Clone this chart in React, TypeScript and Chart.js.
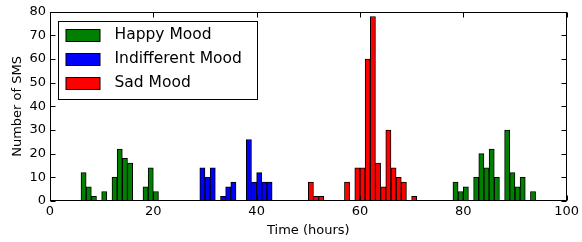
import React, { useEffect, useRef } from 'react';
import { Chart, registerables } from 'chart.js';

Chart.register(...registerables);

// Histogram bins (hour start) and counts
const happyHours = [6, 7, 8, 10, 12, 13, 14, 15, 18, 19, 20, 78, 79, 80, 82, 83, 84, 85, 86, 88, 89, 90, 91, 93];
const happyCounts = [12, 6, 2, 4, 10, 22, 18, 16, 6, 14, 4, 8, 4, 6, 10, 20, 14, 22, 10, 30, 12, 6, 10, 4];

const indifferentHours = [29, 30, 31, 33, 34, 35, 38, 39, 40, 41, 42];
const indifferentCounts = [14, 10, 14, 2, 6, 8, 26, 8, 12, 8, 8];

const sadHours = [50, 51, 52, 57, 59, 60, 61, 62, 63, 64, 65, 66, 67, 68, 70];
const sadCounts = [8, 2, 2, 8, 14, 14, 60, 78, 16, 6, 30, 14, 10, 8, 2];

const seriesLabels = ['Happy Mood', 'Indifferent Mood', 'Sad Mood'];
const seriesColors = ['#008000', '#0000ff', '#ff0000'];

const xTickValues = [0, 20, 40, 60, 80, 100];
const yTickValues = [0, 10, 20, 30, 40, 50, 60, 70, 80];

const xTitle = 'Time (hours)';
const yTitle = 'Number of SMS';

const FONT = '"DejaVu Sans", sans-serif';

const toPoints = (hours: number[], counts: number[]) =>
  hours.map((h, i) => ({ x: h + 0.5, y: counts[i] }));

const framePlugin = {
  id: 'frame',
  afterDatasetsDraw(chart: any) {
    const { ctx, chartArea: a, scales } = chart;
    ctx.save();
    ctx.strokeStyle = '#000';
    ctx.lineWidth = 1;
    const L = 5;
    const left = Math.round(a.left) + 0.5;
    const right = Math.round(a.right) - 0.5;
    const top = Math.round(a.top) + 0.5;
    const bottom = Math.round(a.bottom) - 0.5;
    ctx.beginPath();
    for (const t of scales.x.ticks) {
      const px = Math.round(scales.x.getPixelForValue(t.value)) + 0.5;
      ctx.moveTo(px, bottom);
      ctx.lineTo(px, bottom - L);
      ctx.moveTo(px, top);
      ctx.lineTo(px, top + L);
    }
    for (const t of scales.y.ticks) {
      const py = Math.round(scales.y.getPixelForValue(t.value)) + 0.5;
      ctx.moveTo(left, py);
      ctx.lineTo(left + L, py);
      ctx.moveTo(right, py);
      ctx.lineTo(right - L, py);
    }
    ctx.stroke();
    ctx.strokeRect(left, top, right - left, bottom - top);

    // legend box (upper left, inside the axes)
    const bx = Math.round(a.left + 8) + 0.5;
    const by = Math.round(a.top + 9) + 0.5;
    const bw = 199;
    const bh = 78;
    ctx.fillStyle = '#fff';
    ctx.fillRect(bx, by, bw, bh);
    ctx.strokeStyle = '#000';
    ctx.strokeRect(bx, by, bw, bh);
    ctx.font = `15.5px ${FONT}`;
    ctx.textBaseline = 'middle';
    ctx.textAlign = 'left';
    chart.data.datasets.forEach((ds: any, i: number) => {
      const cy = by + 13.5 + i * 24;
      const sx = bx + 7.5;
      ctx.fillStyle = ds.backgroundColor;
      ctx.fillRect(sx, Math.round(cy - 6) + 0.5, 34, 12);
      ctx.strokeRect(sx, Math.round(cy - 6) + 0.5, 34, 12);
      ctx.fillStyle = '#000';
      ctx.fillText(ds.label, bx + 56, cy);
    });
    ctx.restore();
  },
};

export default function App() {
  const ref = useRef<HTMLCanvasElement | null>(null);

  useEffect(() => {
    document.body.style.margin = '0';
    const canvas = ref.current;
    if (!canvas) return;
    const datasets = [
      [happyHours, happyCounts],
      [indifferentHours, indifferentCounts],
      [sadHours, sadCounts],
    ].map(([h, c], i) => ({
      label: seriesLabels[i],
      data: toPoints(h, c),
      backgroundColor: seriesColors[i],
      borderColor: '#000',
      borderWidth: 1,
      barPercentage: 1,
      categoryPercentage: 1,
      grouped: false,
    }));

    const chart = new Chart(canvas, {
      type: 'bar',
      data: { datasets: datasets as any },
      plugins: [framePlugin],
      options: {
        animation: false,
        responsive: false,
        maintainAspectRatio: false,
        layout: { padding: { top: 11, right: 14, left: 0, bottom: 0 } },
        plugins: {
          legend: { display: false },
          tooltip: { enabled: false },
        },
        scales: {
          x: {
            type: 'linear',
            min: 0,
            max: 100,
            offset: false,
            grid: { display: false, offset: false, drawTicks: false },
            border: { display: false },
            afterBuildTicks: (s: any) => {
              s.ticks = xTickValues.map((v) => ({ value: v }));
            },
            afterFit: (s: any) => {
              s.height = 41;
            },
            ticks: {
              color: '#000',
              padding: 3,
              maxRotation: 0,
              font: { family: FONT, size: 13 },
            },
            title: {
              display: true,
              text: xTitle,
              color: '#000',
              font: { family: FONT, size: 13 },
              padding: { top: 0, bottom: 4 },
            },
          },
          y: {
            type: 'linear',
            min: 0,
            max: 80,
            grid: { display: false, drawTicks: false },
            border: { display: false },
            afterBuildTicks: (s: any) => {
              s.ticks = yTickValues.map((v) => ({ value: v }));
            },
            afterFit: (s: any) => {
              s.width = 50;
            },
            ticks: {
              color: '#000',
              padding: 4,
              font: { family: FONT, size: 13 },
            },
            title: {
              display: true,
              text: yTitle,
              color: '#000',
              font: { family: FONT, size: 13 },
              padding: { top: 10, bottom: 0 },
            },
          },
        },
      },
    } as any);
    return () => chart.destroy();
  }, []);

  return (
    <div style={{ width: 582, height: 242 }}>
      <canvas ref={ref} width={582} height={242} style={{ display: 'block' }} />
    </div>
  );
}
